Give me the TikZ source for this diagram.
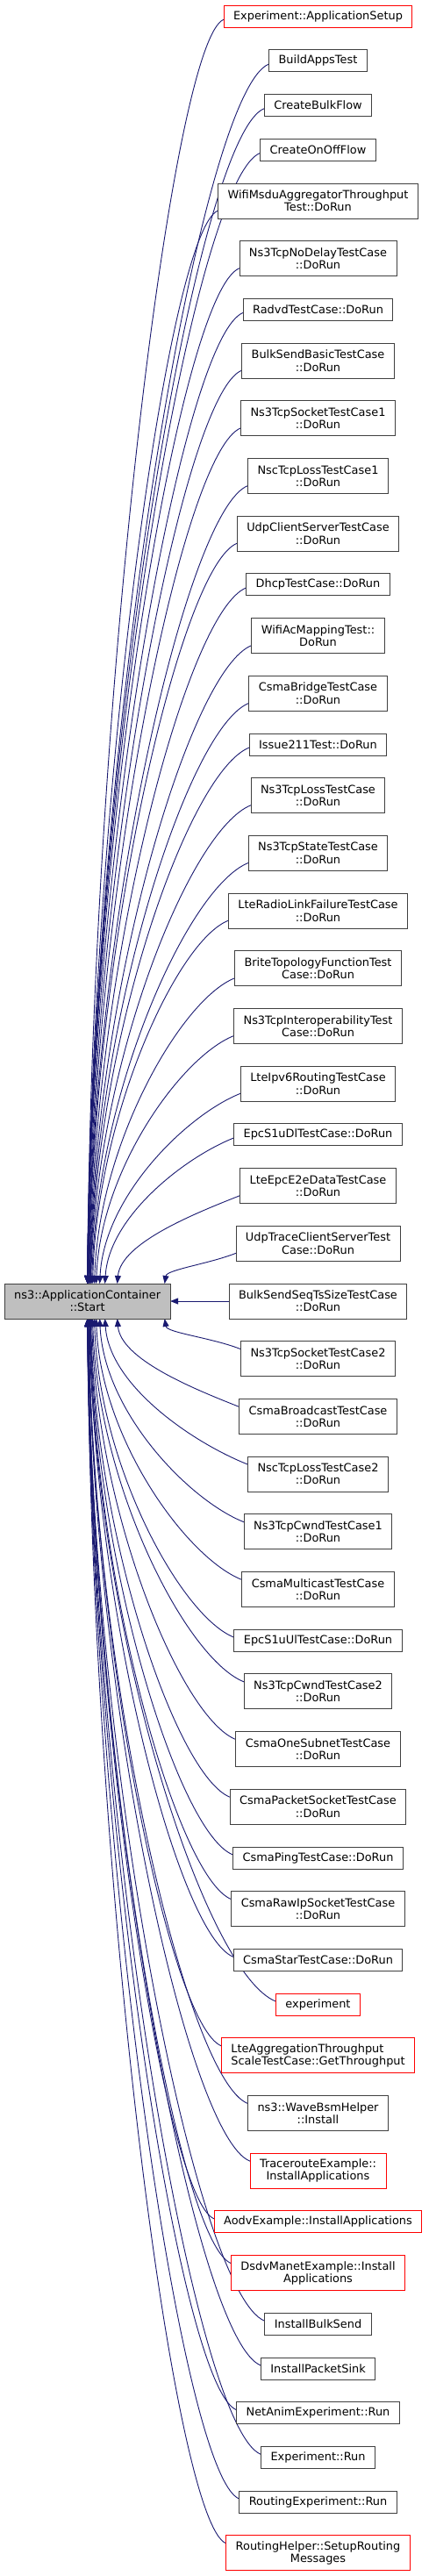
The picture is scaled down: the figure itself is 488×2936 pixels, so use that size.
\documentclass[tikz,border=0pt]{standalone}
\usepackage{fontspec}
\setmainfont{DejaVu Sans}
\usepackage{xcolor}
\definecolor{edgeblue}{RGB}{25,25,112}
\definecolor{startgray}{RGB}{191,191,191}
\definecolor{boxborder}{RGB}{64,64,64}
\definecolor{truncred}{RGB}{255,0,0}
\usepackage{tikz}
\usetikzlibrary{positioning}
\usetikzlibrary{calc}
\usetikzlibrary{backgrounds}
\usetikzlibrary{arrows.meta}
\newcommand{\fnfont}{\fontsize{12.9pt}{14.3pt}\selectfont}
\newcommand{\rowgap}{25.7pt}
\newcommand{\colx}{362.5}
\tikzset{
    fn/.style={draw=boxborder, fill=white, rectangle, line width=0.9pt, outer sep=0pt, minimum height=25pt, inner xsep=11pt, inner ysep=3pt, align=center, font=\fnfont},
    fntwo/.style={fn, minimum height=40pt},
    trunc/.style={draw=truncred},
    caller/.style={draw=edgeblue, line width=0.9pt, -{Triangle[length=9pt, width=7pt]}}
}

\begin{document}
\begin{tikzpicture}[x=1pt, y=-1pt, node distance=\rowgap]
  \useasboundingbox (0,0) rectangle (488,2936);

  % callers, top to bottom
  \node[fn, trunc] (appsetup) at (\colx,18.7) {Experiment::ApplicationSetup};
  \node[fn] (buildapps) [below=of appsetup] {BuildAppsTest};
  \node[fn] (createbulk) [below=of buildapps] {CreateBulkFlow};
  \node[fn] (createonoff) [below=of createbulk] {CreateOnOffFlow};
  \node[fntwo] (wifimsdu) [below=of createonoff] {WifiMsduAggregatorThroughput\\Test::DoRun};
  \node[fntwo] (nodelay) [below=of wifimsdu] {Ns3TcpNoDelayTestCase\\::DoRun};
  \node[fn] (radvd) [below=of nodelay] {RadvdTestCase::DoRun};
  \node[fntwo] (bulkbasic) [below=of radvd] {BulkSendBasicTestCase\\::DoRun};
  \node[fntwo] (socket1) [below=of bulkbasic] {Ns3TcpSocketTestCase1\\::DoRun};
  \node[fntwo] (nscloss1) [below=of socket1] {NscTcpLossTestCase1\\::DoRun};
  \node[fntwo] (udpclient) [below=of nscloss1] {UdpClientServerTestCase\\::DoRun};
  \node[fn] (dhcp) [below=of udpclient] {DhcpTestCase::DoRun};
  \node[fntwo] (wifiac) [below=of dhcp] {WifiAcMappingTest::\\DoRun};
  \node[fntwo] (csmabridge) [below=of wifiac] {CsmaBridgeTestCase\\::DoRun};
  \node[fn] (issue211) [below=of csmabridge] {Issue211Test::DoRun};
  \node[fntwo] (tcploss) [below=of issue211] {Ns3TcpLossTestCase\\::DoRun};
  \node[fntwo] (tcpstate) [below=of tcploss] {Ns3TcpStateTestCase\\::DoRun};
  \node[fntwo] (radiolink) [below=of tcpstate] {LteRadioLinkFailureTestCase\\::DoRun};
  \node[fntwo] (brite) [below=of radiolink] {BriteTopologyFunctionTest\\Case::DoRun};
  \node[fntwo] (interop) [below=of brite] {Ns3TcpInteroperabilityTest\\Case::DoRun};
  \node[fntwo] (ipv6) [below=of interop] {LteIpv6RoutingTestCase\\::DoRun};
  \node[fn] (s1udl) [below=of ipv6] {EpcS1uDlTestCase::DoRun};
  \node[fntwo] (e2edata) [below=of s1udl] {LteEpcE2eDataTestCase\\::DoRun};
  \node[fntwo] (udptrace) [below=of e2edata] {UdpTraceClientServerTest\\Case::DoRun};
  \node[fntwo] (seqts) [below=of udptrace] {BulkSendSeqTsSizeTestCase\\::DoRun};
  \node[fntwo] (socket2) [below=of seqts] {Ns3TcpSocketTestCase2\\::DoRun};
  \node[fntwo] (broadcast) [below=of socket2] {CsmaBroadcastTestCase\\::DoRun};
  \node[fntwo] (nscloss2) [below=of broadcast] {NscTcpLossTestCase2\\::DoRun};
  \node[fntwo] (cwnd1) [below=of nscloss2] {Ns3TcpCwndTestCase1\\::DoRun};
  \node[fntwo] (multicast) [below=of cwnd1] {CsmaMulticastTestCase\\::DoRun};
  \node[fn] (s1uul) [below=of multicast] {EpcS1uUlTestCase::DoRun};
  \node[fntwo] (cwnd2) [below=of s1uul] {Ns3TcpCwndTestCase2\\::DoRun};
  \node[fntwo] (onesubnet) [below=of cwnd2] {CsmaOneSubnetTestCase\\::DoRun};
  \node[fntwo] (packetsocket) [below=of onesubnet] {CsmaPacketSocketTestCase\\::DoRun};
  \node[fn] (ping) [below=of packetsocket] {CsmaPingTestCase::DoRun};
  \node[fntwo] (rawip) [below=of ping] {CsmaRawIpSocketTestCase\\::DoRun};
  \node[fn] (star) [below=of rawip] {CsmaStarTestCase::DoRun};
  \node[fn, trunc] (experiment) [below=of star] {experiment};
  \node[fntwo, trunc, align=left] (lteagg) [below=of experiment] {LteAggregationThroughput\\ScaleTestCase::GetThroughput};
  \node[fntwo] (wavebsm) [below=of lteagg] {ns3::WaveBsmHelper\\::Install};
  \node[fntwo, trunc] (traceroute) [below=of wavebsm] {TracerouteExample::\\InstallApplications};
  \node[fn, trunc] (aodv) [below=of traceroute] {AodvExample::InstallApplications};
  \node[fntwo, trunc] (dsdv) [below=of aodv] {DsdvManetExample::Install\\Applications};
  \node[fn] (installbulk) [below=of dsdv] {InstallBulkSend};
  \node[fn] (installsink) [below=of installbulk] {InstallPacketSink};
  \node[fn] (netanim) [below=of installsink] {NetAnimExperiment::Run};
  \node[fn] (exprun) [below=of netanim] {Experiment::Run};
  \node[fn] (routingexp) [below=of exprun] {RoutingExperiment::Run};
  \node[fntwo, trunc] (routinghelper) [below=of routingexp] {RoutingHelper::SetupRouting\\Messages};

  % the called function
  \node[fntwo, fill=startgray] (start) [left=67pt of seqts] {ns3::ApplicationContainer\\::Start};

  \begin{pgfonlayer}{background}
  % calls from above
  \foreach \caller/\tipx in {appsetup/0, buildapps/0, createbulk/0, createonoff/0, wifimsdu/0, nodelay/0, radvd/0, bulkbasic/0.5, socket1/1, nscloss1/1, udpclient/1.5, dhcp/2, wifiac/2.5, csmabridge/3, issue211/3.5, tcploss/4, tcpstate/5, radiolink/6, brite/8, interop/10, ipv6/14, s1udl/20, e2edata/34, udptrace/88}
    \draw[caller] let \p1=([yshift=9pt]\caller.south west), \p2=([xshift=\tipx pt]start.north) in
      (\p1) .. controls ({\x1-0.38*(\x1-\x2)}, {\y1-0.15*(\x1-\x2)}) and ({\x2+0.03*(\x1-\x2)}, {\y2+0.46*(\y1-\y2)}) .. (\p2);

  % calls from below
  \foreach \caller/\tipx in {socket2/88, broadcast/34, nscloss2/20, cwnd1/14, multicast/10, s1uul/8, cwnd2/6, onesubnet/5, packetsocket/4, ping/3.5, rawip/3, star/2.5, experiment/2, lteagg/1.5, wavebsm/1, traceroute/1, aodv/0.5, dsdv/0.5, installbulk/0, installsink/0, netanim/0, exprun/0, routingexp/0, routinghelper/0}
    \draw[caller] let \p1=([yshift=-9pt]\caller.north west), \p2=([xshift=\tipx pt]start.south) in
      (\p1) .. controls ({\x1-0.38*(\x1-\x2)}, {\y1+0.15*(\x1-\x2)}) and ({\x2+0.03*(\x1-\x2)}, {\y2+0.46*(\y1-\y2)}) .. (\p2);

  \draw[caller] (seqts) -- (start);
  \end{pgfonlayer}
\end{tikzpicture}
\end{document}
